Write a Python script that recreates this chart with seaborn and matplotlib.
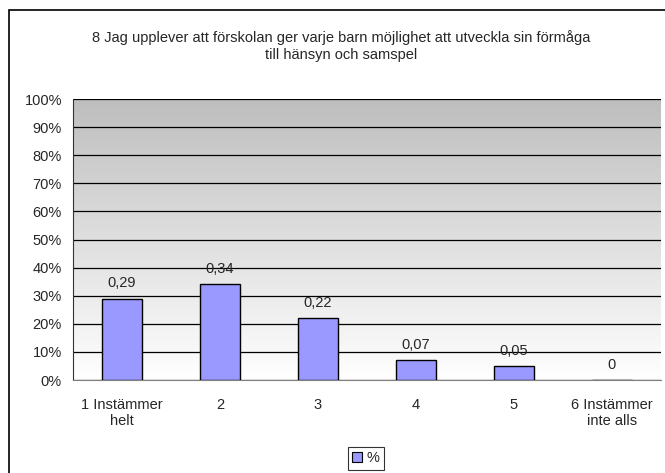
import numpy as np
import pandas as pd
import matplotlib
matplotlib.use("Agg")
import matplotlib.pyplot as plt
from matplotlib.patches import Rectangle
from matplotlib.ticker import FixedLocator, PercentFormatter
import seaborn as sns

# --- data ---
categories = ["1 Instämmer\nhelt", "2", "3", "4", "5", "6 Instämmer\ninte alls"]
values = [0.29, 0.34, 0.22, 0.07, 0.05, 0.0]
value_labels = ["0,29", "0,34", "0,22", "0,07", "0,05", "0"]
series_name = "%"
title = "8 Jag upplever att förskolan ger varje barn möjlighet att utveckla sin förmåga\ntill hänsyn och samspel"

sns.set_style("white")
plt.rcParams["font.family"] = ["Liberation Sans", "DejaVu Sans"]
FS = 10.5

df = pd.DataFrame({"kategori": categories, "andel": values})

fig = plt.figure(figsize=(6.65, 4.73), dpi=100)
ax = fig.add_axes([73 / 665, 1 - 380 / 473, (661 - 73) / 665, (380 - 99) / 473])

# gradient background (grey top -> white bottom)
grad = np.linspace(0, 1, 256).reshape(-1, 1)
cmap = matplotlib.colors.LinearSegmentedColormap.from_list("bg", ["#ffffff", "#bebebe"])
ax.imshow(grad, aspect="auto", cmap=cmap, origin="lower",
          extent=[0, 1, 0, 1], transform=ax.transAxes, zorder=0)

sns.barplot(data=df, x="kategori", y="andel", ax=ax, color="#9999ff",
            edgecolor="black", linewidth=1, width=0.4, saturation=1, zorder=3)

for i, (v, lab) in enumerate(zip(values, value_labels)):
    ax.text(i, v + 0.03, lab, ha="center", va="bottom", fontsize=FS, zorder=4)

ax.set_xlim(-0.5, 5.5)
ax.set_ylim(0, 1)
ax.yaxis.set_major_locator(FixedLocator(np.arange(0, 1.01, 0.1)))
ax.yaxis.set_major_formatter(PercentFormatter(1.0, decimals=0))
ax.grid(axis="y", color="black", linewidth=0.9, zorder=1)
ax.set_axisbelow(True)
ax.set_xlabel("")
ax.set_ylabel("")

# x tick marks between categories, labels centred
ax.set_xticks(range(len(categories)))
ax.set_xticklabels(categories, fontsize=FS)
ax.xaxis.set_minor_locator(FixedLocator(np.arange(-0.5, 6, 1)))
ax.tick_params(axis="x", which="major", length=0, pad=13)
ax.tick_params(axis="x", which="minor", length=5, width=1, color="#333333", direction="out")
ax.tick_params(axis="y", length=5, width=1, color="#333333", direction="out", labelsize=FS, pad=3)

for side in ["top", "right"]:
    ax.spines[side].set_visible(False)
ax.spines["left"].set_color("#333333")
ax.spines["bottom"].set_color("#808080")

fig.text(341 / 665, 1 - 46 / 473, title, ha="center", va="center", fontsize=FS, linespacing=1.3)

handles = [Rectangle((0, 0), 1, 1, facecolor="#9999ff", edgecolor="black", linewidth=0.8)]
leg = fig.legend(handles, [series_name], loc="upper center",
                 bbox_to_anchor=(366 / 665, 1 - 447 / 473), frameon=True, fancybox=False,
                 fontsize=FS, handlelength=0.7, handleheight=0.7, handletextpad=0.3,
                 borderpad=0.3, borderaxespad=0)
leg.get_frame().set_edgecolor("black")
leg.get_frame().set_linewidth(0.8)

# outer chart border
fig.patches.append(Rectangle((8.5 / 665, -0.1), 1.0, 1.1 - 10.5 / 473, transform=fig.transFigure,
                             fill=False, edgecolor="black", linewidth=1.2))

fig.savefig("out.png", dpi=100)
